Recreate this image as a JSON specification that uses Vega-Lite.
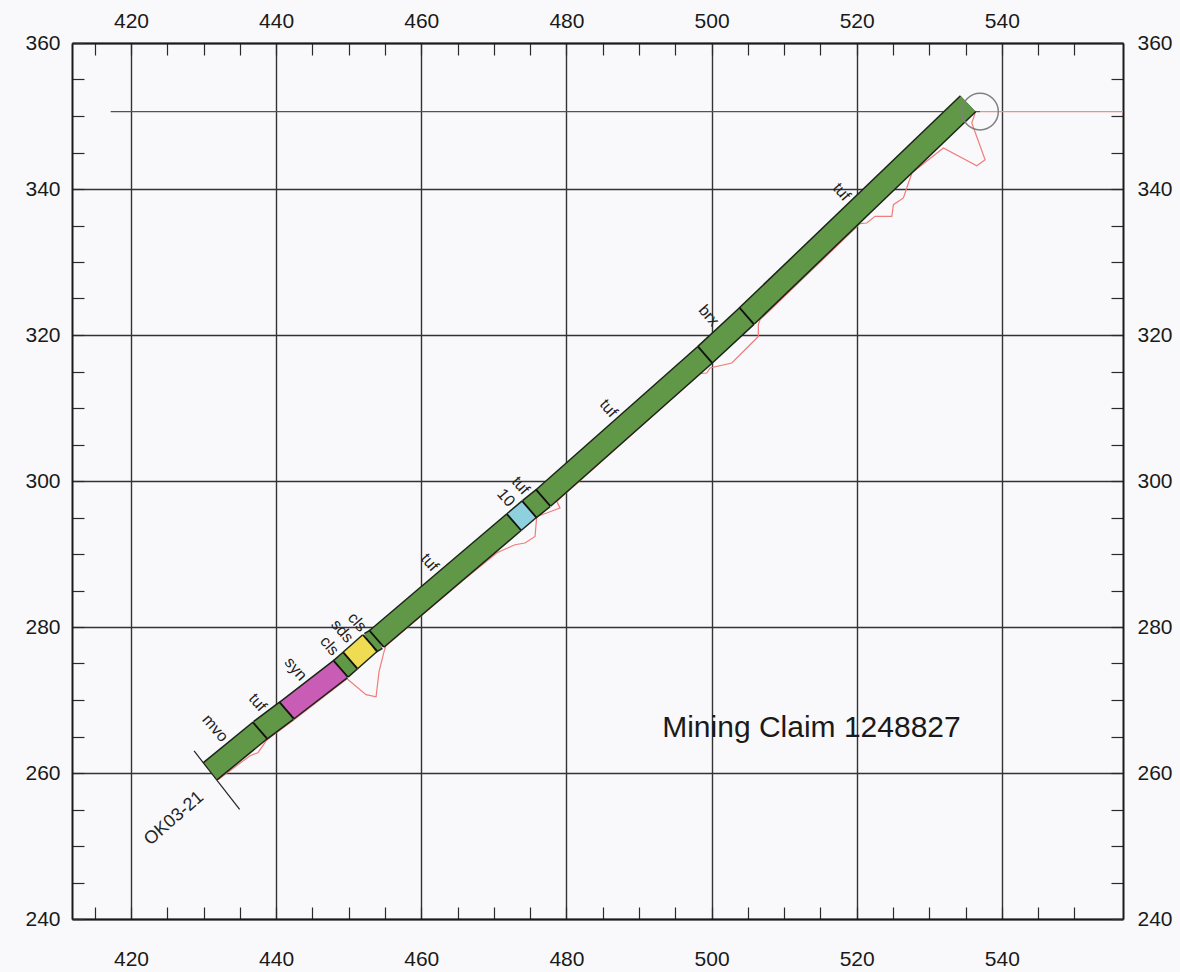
{
  "$schema": "https://vega.github.io/schema/vega-lite/v6.json",
  "width": 1051,
  "height": 876,
  "autosize": {"type": "none"},
  "padding": {"left": 72, "top": 43, "right": 57, "bottom": 53},
  "background": "#f9f9fb",
  "config": {
    "view": {"stroke": null},
    "axis": {
      "labelFont": "Liberation Sans",
      "labelFontSize": 21,
      "labelColor": "#1a1a1a",
      "labelOverlap": false,
      "labelFlush": false,
      "labelBound": false,
      "domainColor": "#1a1a1a",
      "domainWidth": 2,
      "tickColor": "#2a2a2a",
      "tickWidth": 1.2,
      "tickSize": -12,
      "gridColor": "#333333",
      "gridWidth": 1.4,
      "title": null,
      "zindex": 1
    }
  },
  "datasets": {
    "collar_line": [
      {"x1": 417.2, "x2": 537.0, "y": 350.6, "part": "left"},
      {"x1": 537.0, "x2": 556.7, "y": 350.6, "part": "right"}
    ],
    "assay": [
      {"i": 1, "x": 431.99, "y": 259.08},
      {"i": 2, "x": 436.40, "y": 262.37},
      {"i": 3, "x": 437.50, "y": 262.78},
      {"i": 4, "x": 438.74, "y": 264.56},
      {"i": 5, "x": 442.46, "y": 267.30},
      {"i": 6, "x": 449.77, "y": 272.92},
      {"i": 7, "x": 452.39, "y": 270.73},
      {"i": 8, "x": 453.77, "y": 270.45},
      {"i": 9, "x": 454.18, "y": 273.88},
      {"i": 10, "x": 454.87, "y": 276.62},
      {"i": 11, "x": 455.14, "y": 277.44},
      {"i": 12, "x": 465.76, "y": 286.41},
      {"i": 13, "x": 470.44, "y": 290.18},
      {"i": 14, "x": 472.92, "y": 291.27},
      {"i": 15, "x": 474.30, "y": 291.51},
      {"i": 16, "x": 475.68, "y": 292.41},
      {"i": 17, "x": 475.91, "y": 295.15},
      {"i": 18, "x": 477.29, "y": 295.62},
      {"i": 19, "x": 479.12, "y": 296.30},
      {"i": 20, "x": 478.67, "y": 297.21},
      {"i": 21, "x": 498.42, "y": 314.70},
      {"i": 22, "x": 499.34, "y": 314.79},
      {"i": 23, "x": 499.80, "y": 315.48},
      {"i": 24, "x": 502.79, "y": 316.16},
      {"i": 25, "x": 505.31, "y": 318.67},
      {"i": 26, "x": 506.45, "y": 319.81},
      {"i": 27, "x": 506.45, "y": 321.41},
      {"i": 28, "x": 506.69, "y": 322.10},
      {"i": 29, "x": 520.47, "y": 335.25},
      {"i": 30, "x": 521.39, "y": 335.34},
      {"i": 31, "x": 522.54, "y": 336.25},
      {"i": 32, "x": 524.84, "y": 336.25},
      {"i": 33, "x": 525.06, "y": 337.85},
      {"i": 34, "x": 526.44, "y": 338.77},
      {"i": 35, "x": 527.13, "y": 340.82},
      {"i": 36, "x": 527.63, "y": 342.23},
      {"i": 37, "x": 531.95, "y": 345.62},
      {"i": 38, "x": 536.55, "y": 343.19},
      {"i": 39, "x": 537.70, "y": 344.01},
      {"i": 40, "x": 535.86, "y": 349.04},
      {"i": 41, "x": 536.32, "y": 350.41}
    ],
    "lith": [
      {"n": 1, "lith": "mvo", "x1": 430.89, "y1": 260.22, "x2": 437.78, "y2": 265.82, "xm": 434.34, "ym": 263.02},
      {"n": 2, "lith": "tuf", "x1": 437.78, "y1": 265.82, "x2": 441.46, "y2": 268.56, "xm": 439.62, "ym": 267.19},
      {"n": 3, "lith": "syn", "x1": 441.46, "y1": 268.56, "x2": 448.91, "y2": 274.26, "xm": 445.19, "ym": 271.41},
      {"n": 4, "lith": "cls", "x1": 448.91, "y1": 274.26, "x2": 450.22, "y2": 275.41, "xm": 449.57, "ym": 274.84},
      {"n": 5, "lith": "sds", "x1": 450.22, "y1": 275.41, "x2": 452.94, "y2": 277.81, "xm": 451.58, "ym": 276.61},
      {"n": 6, "lith": "cls", "x1": 452.94, "y1": 277.81, "x2": 453.86, "y2": 278.37, "xm": 453.40, "ym": 278.09},
      {"n": 7, "lith": "tuf", "x1": 453.86, "y1": 278.37, "x2": 472.78, "y2": 294.36, "xm": 463.32, "ym": 286.37},
      {"n": 8, "lith": "10", "x1": 472.78, "y1": 294.36, "x2": 474.88, "y2": 296.14, "xm": 473.83, "ym": 295.25},
      {"n": 9, "lith": "tuf", "x1": 474.88, "y1": 296.14, "x2": 476.82, "y2": 297.67, "xm": 475.85, "ym": 296.91},
      {"n": 10, "lith": "tuf", "x1": 476.82, "y1": 297.67, "x2": 499.11, "y2": 317.30, "xm": 487.97, "ym": 307.49},
      {"n": 11, "lith": "brx", "x1": 499.11, "y1": 317.30, "x2": 504.85, "y2": 322.60, "xm": 501.98, "ym": 319.95},
      {"n": 12, "lith": "tuf", "x1": 504.85, "y1": 322.60, "x2": 535.35, "y2": 351.68, "xm": 520.10, "ym": 337.14}
    ],
    "collar": [{"x": 537.0, "y": 350.6}],
    "hole": [{"x": 430.89, "y": 260.22, "name": "OK03-21"}],
    "note": [{"x": 493.2, "y": 266.2, "text": "Mining Claim 1248827"}]
  },
  "layer": [
    {
      "data": {"name": "collar_line"},
      "transform": [{"filter": "datum.part === 'left'"}],
      "mark": {"type": "rule", "color": "#5a5050", "strokeWidth": 1.1},
      "encoding": {
        "x": {
          "field": "x1", "type": "quantitative",
          "scale": {"domain": [411.87, 556.7], "nice": false, "zero": false},
          "axis": {
            "orient": "bottom",
            "values": [415,420,425,430,435,440,445,450,455,460,465,470,475,480,485,490,495,500,505,510,515,520,525,530,535,540,545,550],
            "labelExpr": "datum.value % 20 === 0 ? datum.label : ''",
            "grid": true,
            "gridOpacity": {"condition": {"test": "datum.value % 20 === 0", "value": 1}, "value": 0},
            "labelPadding": 41
          }
        },
        "x2": {"field": "x2"},
        "y": {
          "field": "y", "type": "quantitative",
          "scale": {"domain": [240, 360], "nice": false, "zero": false},
          "axis": {
            "orient": "left",
            "values": [240,245,250,255,260,265,270,275,280,285,290,295,300,305,310,315,320,325,330,335,340,345,350,355,360],
            "labelExpr": "datum.value % 20 === 0 ? datum.label : ''",
            "grid": true,
            "gridOpacity": {"condition": {"test": "datum.value % 20 === 0", "value": 1}, "value": 0},
            "labelPadding": 24
          }
        }
      }
    },
    {
      "data": {"name": "collar_line"},
      "transform": [{"filter": "datum.part === 'right'"}],
      "mark": {"type": "rule", "color": "#f08c8c", "strokeWidth": 1.1},
      "encoding": {
        "x": {"field": "x1", "type": "quantitative", "axis": null},
        "x2": {"field": "x2"},
        "y": {"field": "y", "type": "quantitative", "axis": null}
      }
    },
    {
      "data": {"name": "assay"},
      "mark": {"type": "line", "color": "#f07c7c", "strokeWidth": 1.2},
      "encoding": {
        "x": {"field": "x", "type": "quantitative", "axis": null},
        "y": {"field": "y", "type": "quantitative", "axis": null},
        "order": {"field": "i", "type": "quantitative"}
      }
    },
    {
      "data": {"name": "lith"},
      "mark": {"type": "rule", "color": "#1c2418", "strokeWidth": 23.5, "strokeCap": "butt"},
      "encoding": {
        "x": {"field": "x1", "type": "quantitative", "axis": null},
        "y": {"field": "y1", "type": "quantitative", "axis": null},
        "x2": {"field": "x2"},
        "y2": {"field": "y2"}
      }
    },
    {
      "data": {"name": "lith"},
      "mark": {"type": "rule", "strokeWidth": 20.5, "strokeCap": "butt"},
      "encoding": {
        "x": {"field": "x1", "type": "quantitative", "axis": null},
        "y": {"field": "y1", "type": "quantitative", "axis": null},
        "x2": {"field": "x2"},
        "y2": {"field": "y2"},
        "color": {
          "field": "lith", "type": "nominal", "legend": null,
          "scale": {
            "domain": ["mvo", "tuf", "syn", "cls", "sds", "10", "brx"],
            "range": ["#609848", "#609848", "#c95cb4", "#609848", "#f0dc52", "#8fd0de", "#609848"]
          }
        }
      }
    },
    {
      "data": {"name": "lith"},
      "transform": [{"filter": "datum.n < 12"}],
      "mark": {"type": "point", "shape": "M -1 0 L 1 0", "size": 462, "angle": 49, "filled": false, "stroke": "#111111", "strokeWidth": 1.8, "opacity": 1},
      "encoding": {
        "x": {"field": "x2", "type": "quantitative", "axis": null},
        "y": {"field": "y2", "type": "quantitative", "axis": null}
      }
    },
    {
      "data": {"name": "lith"},
      "mark": {"type": "text", "angle": 49, "align": "right", "baseline": "middle", "dx": -15, "font": "Liberation Sans", "fontSize": 16, "color": "#222222"},
      "encoding": {
        "x": {"field": "xm", "type": "quantitative", "axis": null},
        "y": {"field": "ym", "type": "quantitative", "axis": null},
        "text": {"field": "lith"}
      }
    },
    {
      "data": {"name": "hole"},
      "mark": {"type": "point", "shape": "M -0.7 0 L 1.3 0", "size": 5476, "angle": 52, "filled": false, "stroke": "#222222", "strokeWidth": 1.2, "opacity": 1},
      "encoding": {
        "x": {"field": "x", "type": "quantitative", "axis": null},
        "y": {"field": "y", "type": "quantitative", "axis": null}
      }
    },
    {
      "data": {"name": "hole"},
      "mark": {"type": "text", "angle": -41, "align": "center", "baseline": "middle", "dx": -58, "dy": 12, "font": "Liberation Sans", "fontSize": 18, "color": "#222222"},
      "encoding": {
        "x": {"field": "x", "type": "quantitative", "axis": null},
        "y": {"field": "y", "type": "quantitative", "axis": null},
        "text": {"field": "name"}
      }
    },
    {
      "data": {"name": "note"},
      "mark": {"type": "text", "align": "left", "baseline": "middle", "font": "Liberation Sans", "fontSize": 30, "color": "#1a1a1a"},
      "encoding": {
        "x": {"field": "x", "type": "quantitative", "axis": null},
        "y": {"field": "y", "type": "quantitative", "axis": null},
        "text": {"field": "text"}
      }
    },
    {
      "data": {"name": "collar"},
      "mark": {"type": "point", "shape": "circle", "size": 1340, "filled": false, "stroke": "#808080", "strokeWidth": 1.5, "opacity": 1},
      "encoding": {
        "x": {
          "field": "x", "type": "quantitative",
          "axis": {
            "orient": "top",
            "values": [415,420,425,430,435,440,445,450,455,460,465,470,475,480,485,490,495,500,505,510,515,520,525,530,535,540,545,550],
            "labelExpr": "datum.value % 20 === 0 ? datum.label : ''",
            "grid": false,
            "labelPadding": 24
          }
        },
        "y": {
          "field": "y", "type": "quantitative",
          "axis": {
            "orient": "right",
            "values": [240,245,250,255,260,265,270,275,280,285,290,295,300,305,310,315,320,325,330,335,340,345,350,355,360],
            "labelExpr": "datum.value % 20 === 0 ? datum.label : ''",
            "grid": false,
            "labelPadding": 26
          }
        }
      }
    }
  ],
  "resolve": {"axis": {"x": "independent", "y": "independent"}}
}
